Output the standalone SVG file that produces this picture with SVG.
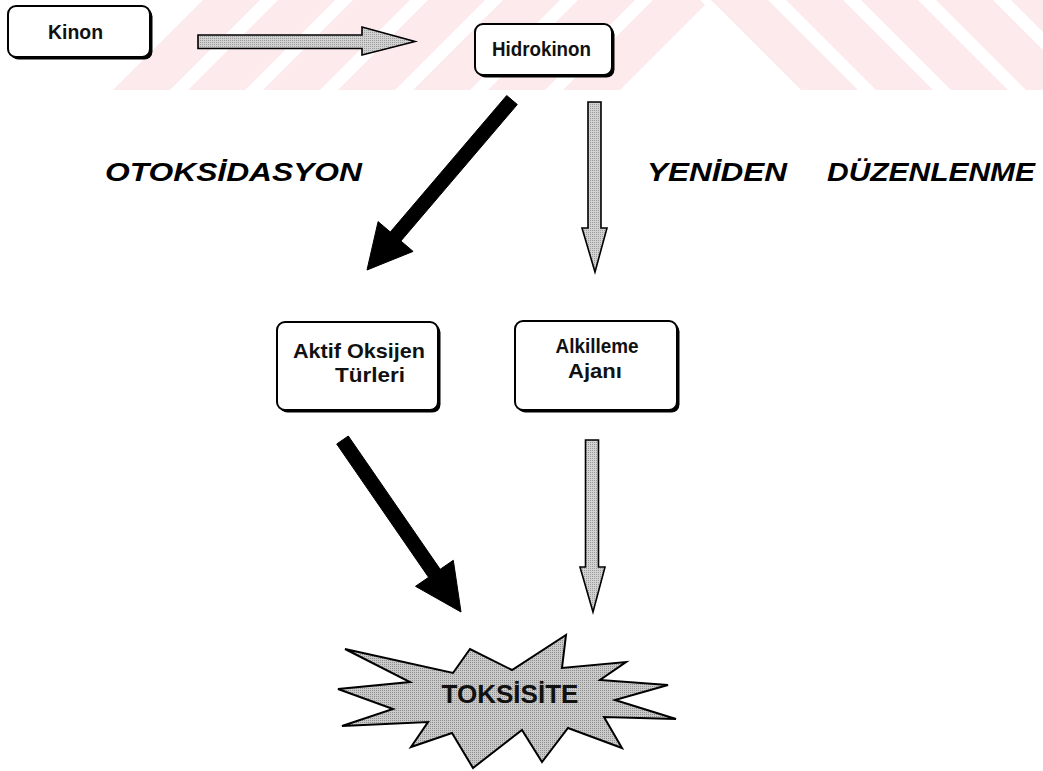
<svg xmlns="http://www.w3.org/2000/svg" width="1043" height="771" viewBox="0 0 1043 771">
  <style>
    .box { fill: #ffffff; stroke: #000000; stroke-width: 2; }
    .shadow { fill: #000000; }
    .lbl { font-family: "Liberation Sans", Arial, sans-serif; font-weight: bold; font-size: 20.5px; fill: #111111; text-anchor: middle; }
    .title { font-family: "Liberation Sans", Arial, sans-serif; font-weight: bold; font-style: italic; font-size: 26px; fill: #000000; }
    .hollow { fill: url(#halftone); stroke: #000000; stroke-width: 1.6; stroke-linejoin: miter; }
    .solid { fill: #000000; stroke: #000000; stroke-width: 1; stroke-linejoin: miter; }
    .stripe { fill: #fdeaed; }
  </style>
  <defs>
    <pattern id="halftone" width="2" height="2" patternUnits="userSpaceOnUse">
      <rect width="2" height="2" fill="#d2d2d2"/>
      <rect width="1" height="1" fill="#9a9a9a"/>
    </pattern>
    <pattern id="halftoneDark" width="2" height="2" patternUnits="userSpaceOnUse">
      <rect width="2" height="2" fill="#cacaca"/>
      <rect width="1" height="1" fill="#8e8e8e"/>
    </pattern>
  </defs>

  <rect width="1043" height="771" fill="#ffffff"/>

  <!-- faint diagonal band along the top edge -->
  <g id="band">
    <polygon class="stripe" points="113,90 170,90 260,0 203,0"/>
    <polygon class="stripe" points="188,90 245,90 335,0 278,0"/>
    <polygon class="stripe" points="263,90 320,90 410,0 353,0"/>
    <polygon class="stripe" points="338,90 395,90 485,0 428,0"/>
    <polygon class="stripe" points="413,90 470,90 560,0 503,0"/>
    <polygon class="stripe" points="488,90 545,90 635,0 578,0"/>
    <polygon class="stripe" points="563,90 620,90 705,5 700,0 653,0"/>
    <polygon class="stripe" points="711,0 768,0 858,90 801,90"/>
    <polygon class="stripe" points="786,0 843,0 933,90 876,90"/>
    <polygon class="stripe" points="861,0 918,0 1008,90 951,90"/>
    <polygon class="stripe" points="936,0 993,0 1043,50 1043,90 1026,90"/>
    <polygon class="stripe" points="1011,0 1043,0 1043,32"/>
  </g>

  <!-- connectors -->
  <g id="connectors">
    <!-- Kinon to Hidrokinon -->
    <polygon class="hollow" points="198,35 362,35 362,27 415,41.5 362,55 362,48.5 198,48.5"/>
    <!-- Hidrokinon down to Alkilleme Ajani -->
    <polygon class="hollow" points="588,102 601,102 601,228 607,228 595,272 582,228 588,228"/>
    <!-- Hidrokinon to Aktif Oksijen Turleri -->
    <polygon class="solid" points="506.7,95.5 517.3,104.5 400.9,241 413.1,251.4 367,270 378.1,221.6 390.3,232"/>
    <!-- Aktif Oksijen Turleri to Toksisite -->
    <polygon class="solid" points="336.7,444 348.3,436 440.2,569.3 453.3,560.3 461,612 415.5,586.3 428.6,577.3"/>
    <!-- Alkilleme Ajani to Toksisite -->
    <polygon class="hollow" points="585.5,440 598.5,440 598.5,567 605,567 593,612 580,567 585.5,567"/>
  </g>

  <g id="kinon">
    <rect class="shadow" x="10.5" y="8.5" width="142" height="51" rx="8"/>
    <rect class="box" x="8" y="6" width="142" height="51" rx="8"/>
    <text class="lbl" x="75.5" y="39" textLength="55" lengthAdjust="spacingAndGlyphs">Kinon</text>
  </g>

  <g id="hidrokinon">
    <rect class="shadow" x="477.5" y="26.5" width="137" height="51" rx="8"/>
    <rect class="box" x="475" y="24" width="137" height="51" rx="8"/>
    <text class="lbl" x="541.5" y="56" textLength="99" lengthAdjust="spacingAndGlyphs">Hidrokinon</text>
  </g>

  <g id="aktif-oksijen">
    <rect class="shadow" x="279.5" y="324.5" width="161" height="88" rx="8"/>
    <rect class="box" x="277" y="322" width="161" height="88" rx="8"/>
    <text class="lbl" x="359" y="358" textLength="132" lengthAdjust="spacingAndGlyphs">Aktif Oksijen</text>
    <text class="lbl" x="370" y="382" textLength="70" lengthAdjust="spacingAndGlyphs">Türleri</text>
  </g>

  <g id="alkilleme">
    <rect class="shadow" x="517.5" y="323.5" width="162" height="89" rx="8"/>
    <rect class="box" x="515" y="321" width="162" height="89" rx="8"/>
    <text class="lbl" x="597" y="353" textLength="83" lengthAdjust="spacingAndGlyphs">Alkilleme</text>
    <text class="lbl" x="595" y="378" textLength="54" lengthAdjust="spacingAndGlyphs">Ajanı</text>
  </g>

  <g id="otoksidasyon">
    <text class="title" x="105" y="180.5" textLength="257" lengthAdjust="spacingAndGlyphs">OTOKSİDASYON</text>
  </g>

  <g id="yeniden-duzenlenme">
    <text class="title" x="647" y="180.5" textLength="140" lengthAdjust="spacingAndGlyphs">YENİDEN</text>
    <text class="title" x="827" y="180.5" textLength="208" lengthAdjust="spacingAndGlyphs">DÜZENLENME</text>
  </g>

  <g id="toksisite">
    <polygon fill="url(#halftoneDark)" stroke="#000000" stroke-width="2" stroke-linejoin="miter"
      points="345,649 453,673 470,649 512,670 566,635 562,668 626,662 600,680 668,685 615,700 676,719 604,717 622,748 568,728 542,762 522,730 473,768 452,733 411,747 428,722 342,726 393,709 338,689 410,682"/>
    <text x="510" y="703" font-family="'Liberation Sans', Arial, sans-serif" font-weight="bold" font-size="25.5" fill="#111111" text-anchor="middle" textLength="137" lengthAdjust="spacingAndGlyphs">TOKSİSİTE</text>
  </g>
</svg>
